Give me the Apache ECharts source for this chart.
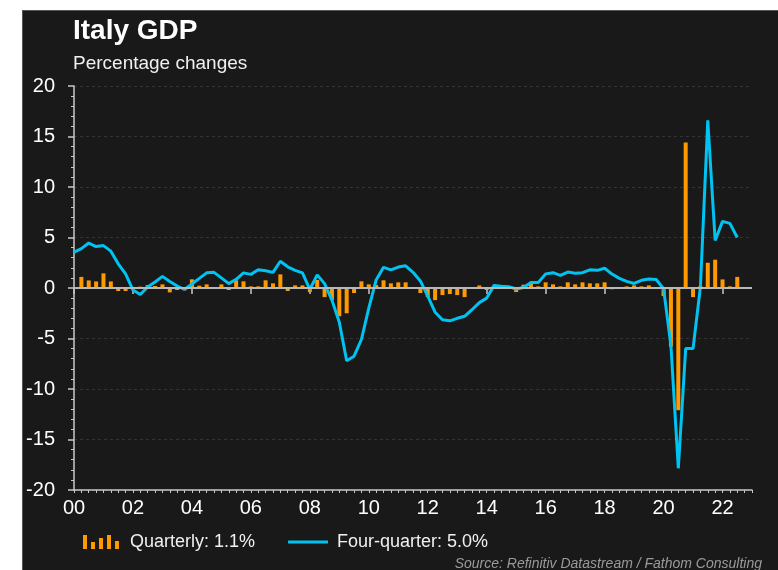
<!DOCTYPE html>
<html>
<head>
<meta charset="utf-8">
<title>Italy GDP</title>
<script src="https://cdn.jsdelivr.net/npm/echarts@6/dist/echarts.min.js"></script>
<style>
  html, body { margin: 0; padding: 0; background: #ffffff; }
  body { width: 778px; height: 570px; position: relative; overflow: hidden; }
  #chart {
    position: absolute; left: 22px; top: 10px; width: 756px; height: 560px;
    background: #191919; box-sizing: border-box; border-top: 1px solid #555; border-left: 1px solid #555;
  }
</style>
</head>
<body>
<div id="chart"></div>
<script>
// Italy real GDP, % change on previous quarter, 2000 Q1 - 2022 Q2
const quarterly = [
  1.1, 0.75, 0.65, 1.45,
  0.65, -0.3, -0.3, -0.05,
  0.13, 0.3, 0.2, 0.36,
  -0.43, -0.2, 0.05, 0.86,
  0.23, 0.36, -0.1, 0.36,
  -0.2, 0.76, 0.66, 0.16,
  0.16, 0.76, 0.46, 1.35,
  -0.3, 0.26, 0.26, -0.4,
  0.8, -0.9, -1.2, -2.8,
  -2.5, -0.5, 0.66, 0.36,
  0.3, 0.76, 0.46, 0.56,
  0.56, 0.1, -0.5, -0.9,
  -1.2, -0.7, -0.6, -0.7,
  -0.9, 0.0, 0.25, -0.2,
  0.05, -0.1, 0.0, -0.4,
  0.33, 0.4, 0.16, 0.56,
  0.36, 0.16, 0.56, 0.36,
  0.56, 0.46, 0.46, 0.56,
  -0.12, 0.0, 0.16, 0.26,
  0.16, 0.26, 0.02, -0.8,
  -5.8, -12.1, 14.4, -0.9,
  0.2, 2.5, 2.8, 0.85,
  0.16, 1.1
];

// Italy real GDP, % change on a year earlier, 1999 Q4 - 2022 Q2
const fourQuarter = [
  3.55,
  3.9, 4.45, 4.1, 4.2,
  3.65, 2.4, 1.4, -0.2,
  -0.65, 0.1, 0.6, 1.15,
  0.65, 0.2, -0.15, 0.4,
  0.95, 1.5, 1.55, 1.0,
  0.43, 0.86, 1.5, 1.35,
  1.8, 1.7, 1.55, 2.65,
  2.1, 1.75, 1.5, -0.15,
  1.3, 0.43, -1.2, -3.4,
  -7.2, -6.75, -5.1, -2.0,
  0.8, 2.05, 1.8, 2.07,
  2.2, 1.55, 0.7, -0.8,
  -2.4, -3.15, -3.25, -3.0,
  -2.8, -2.15, -1.45, -1.0,
  0.26, 0.18, 0.13, -0.1,
  0.05, 0.55, 0.55, 1.4,
  1.52, 1.25, 1.58, 1.47,
  1.52, 1.8, 1.75, 1.96,
  1.38, 0.95, 0.66, 0.45,
  0.76, 0.9, 0.84, -0.07,
  -5.7, -17.85, -6.0, -6.0,
  0.1, 16.6, 4.7, 6.6,
  6.4, 5.0
];

// x-axis year labels (two-digit)
const yearLabels = ['00','02','04','06','08','10','12','14','16','18','20','22'];
const labelYears = yearLabels.map(s => 2000 + Number(s));

// y-axis range
const yMin = -20, yMax = 20, yStep = 5;

// quarters are placed at the end of each quarter on a continuous year axis
const quarterlyPoints = quarterly.map((v, i) => [2000 + (i + 1) / 4, v]);
const fourQuarterPoints = fourQuarter.map((v, i) => [2000 + i / 4, v]);

const lastQ = quarterly[quarterly.length - 1];
const lastA = fourQuarter[fourQuarter.length - 1];
const quarterlyName = 'Quarterly: ' + lastQ.toFixed(1) + '%';
const fourQuarterName = 'Four-quarter: ' + lastA.toFixed(1) + '%';

const FONT = '"Liberation Sans", Arial, Helvetica, sans-serif';
const ORANGE = '#FF9900';
const CYAN = '#00C3F2';
const AXIS = '#c8c8c8';

// legend glyphs: a mini bar chart and a thin horizontal stroke
const BAR_ICON = 'path://M0,0 h4 v14 h-4 Z M8,7 h4 v7 h-4 Z M16,3 h4 v11 h-4 Z M24,0 h4 v14 h-4 Z M32,6 h4 v8 h-4 Z';
const LINE_ICON = 'path://M0,0 L0,0 Z M0,5.5 h42 v3 h-42 Z M42,14 L42,14 Z';

const chart = echarts.init(document.getElementById('chart'), null, { renderer: 'canvas' });

chart.setOption({
  backgroundColor: 'transparent',
  animation: false,
  title: [
    { text: 'Italy GDP', left: 45, top: 1,
      textStyle: { fontFamily: FONT, fontSize: 28, fontWeight: 'bold', color: '#ffffff' } },
    { text: 'Percentage changes', left: 45, top: 38,
      textStyle: { fontFamily: FONT, fontSize: 19, fontWeight: 'normal', color: '#f0f0f0' } },
    { text: 'Source: Refinitiv Datastream / Fathom Consulting', right: 11, top: 541,
      textStyle: { fontFamily: FONT, fontSize: 14, fontWeight: 'normal', fontStyle: 'italic', color: '#9a9a9a' } }
  ],
  legend: {
    left: 55, top: 517,
    itemWidth: 40, itemHeight: 14, itemGap: 33,
    textStyle: { fontFamily: FONT, fontSize: 18, color: '#f0f0f0', padding: [0, 0, 0, 4] },
    data: [
      { name: quarterlyName, icon: BAR_ICON },
      { name: fourQuarterName, icon: LINE_ICON }
    ]
  },
  grid: { left: 51, top: 75, right: 26, bottom: 80, containLabel: false },
  xAxis: [
    {
      type: 'value', min: 2000, max: 2023, interval: 0.25,
      axisLine: { show: true, onZero: false, lineStyle: { color: AXIS, width: 1.5 } },
      axisTick: { show: true, length: 3, lineStyle: { color: AXIS, width: 1 } },
      axisLabel: {
        show: true, margin: 8, color: '#ffffff', fontFamily: FONT, fontSize: 20,
        formatter: v => {
          const i = labelYears.indexOf(Math.round(v * 100) / 100);
          return i >= 0 ? yearLabels[i] : '';
        }
      },
      splitLine: { show: false }
    },
    {
      type: 'value', min: 2000, max: 2023, position: 'bottom', gridIndex: 0,
      axisLine: { show: false },
      axisTick: { show: true, length: 6, customValues: labelYears, lineStyle: { color: AXIS, width: 1.5 } },
      axisLabel: { show: false },
      splitLine: { show: false }
    }
  ],
  yAxis: {
    type: 'value', min: yMin, max: yMax, interval: yStep,
    axisLine: { show: true, onZero: false, lineStyle: { color: AXIS, width: 1.5 } },
    axisTick: { show: true, length: 6, lineStyle: { color: AXIS, width: 1.5 } },
    minorTick: { show: true, splitNumber: 5, length: 3, lineStyle: { color: AXIS, width: 1 } },
    axisLabel: { color: '#ffffff', fontFamily: FONT, fontSize: 20, margin: 19 },
    splitLine: { show: true, lineStyle: { color: '#343434', width: 1, type: [3, 3] } }
  },
  series: [
    {
      name: quarterlyName, type: 'bar', xAxisIndex: 0, yAxisIndex: 0,
      data: quarterlyPoints, barWidth: 4,
      itemStyle: { color: ORANGE },
      markLine: {
        silent: true, symbol: 'none', label: { show: false },
        lineStyle: { color: '#b8b8b8', width: 2, type: 'solid' },
        data: [{ yAxis: 0 }]
      },
      z: 2
    },
    {
      name: fourQuarterName, type: 'line', xAxisIndex: 0, yAxisIndex: 0,
      data: fourQuarterPoints, symbol: 'none', showSymbol: false,
      lineStyle: { color: CYAN, width: 3 },
      itemStyle: { color: CYAN },
      z: 3
    }
  ]
});
</script>
</body>
</html>
